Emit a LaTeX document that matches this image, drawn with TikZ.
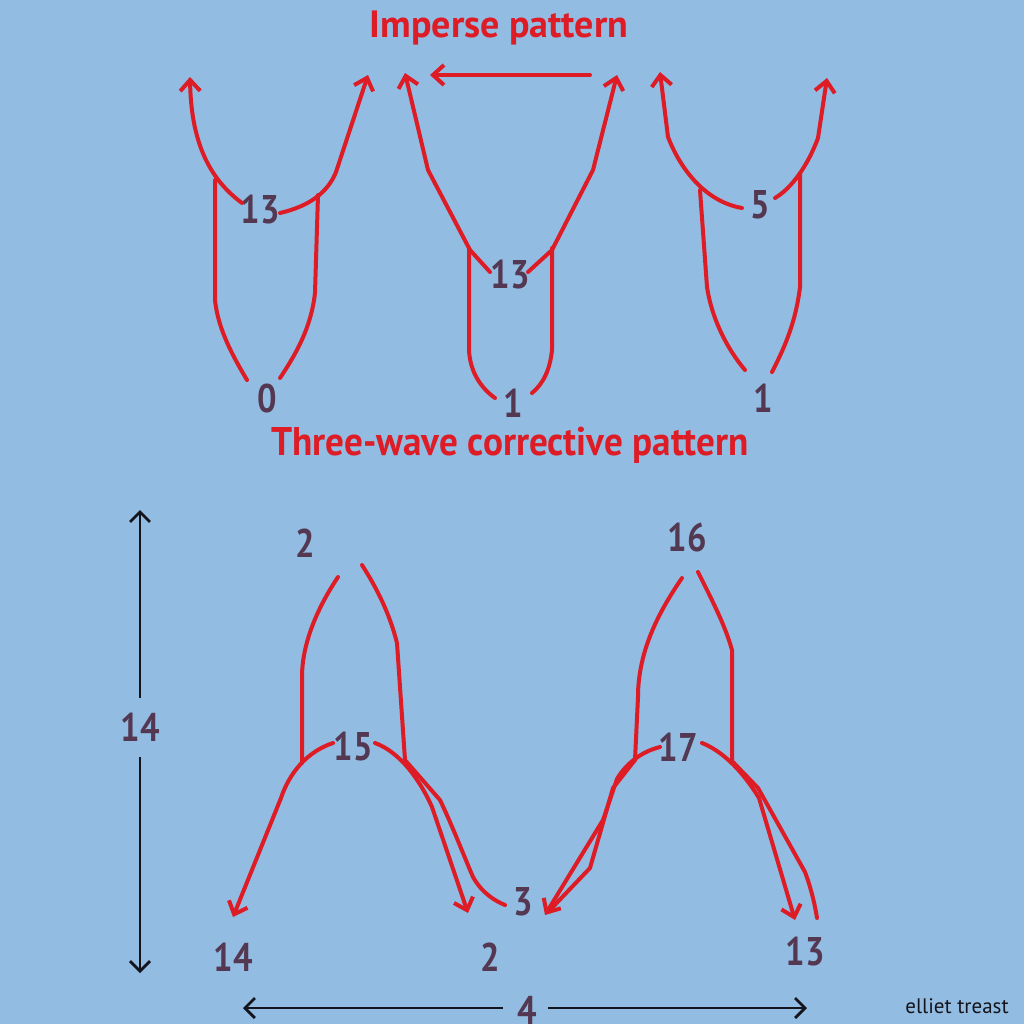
\documentclass[tikz,border=0pt]{standalone}
\usepackage{fontspec}
\usepackage{graphicx}
\setmainfont{PT Sans}
\newfontfamily\numfont[FakeStretch=0.86]{PT Sans Bold}
\newfontfamily\subfont[FakeStretch=0.93]{PT Sans Bold}
\usetikzlibrary{arrows.meta}
\definecolor{bg}{RGB}{146,188,226}
\definecolor{wred}{RGB}{222,28,38}
\definecolor{numc}{RGB}{84,56,82}
\definecolor{ink}{RGB}{20,20,28}
\tikzset{
  wave/.style={draw=wred,line width=2pt,line cap=round,line join=round},
  wavearrow/.style={wave,-{Straight Barb[length=5.5pt,width=10pt,line width=2pt]}},
  ruler/.style={draw=ink,line width=1.4pt,-{Straight Barb[length=5pt,width=10pt,line width=1.4pt]}},
  num/.style={text=numc,font=\numfont\fontsize{20}{20}\selectfont,inner sep=0pt},
  redtitle/.style={text=wred,font=\bfseries\fontsize{19}{19}\selectfont,inner sep=0pt},
  subtitle/.style={text=wred,font=\subfont\fontsize{20}{20}\selectfont,inner sep=0pt},
  credit/.style={text=ink,font=\fontsize{10.5}{10.5}\selectfont,inner sep=0pt}
}
\begin{document}
\begin{tikzpicture}[x=0.5pt,y=-0.5pt]
\fill[bg] (0,0) rectangle (1024,1024);
\useasboundingbox (0,0) rectangle (1024,1024);

% titles
\node[redtitle] (title) at (499,28) {Imperse pattern};
\node[subtitle] (sub) at (510,445) {Three-wave corrective pattern};

% ---------- top left ----------
\node[num] (tl13) at (260,210) {13};
\node[num] (tl0) at (267,398) {0};
\path[wavearrow] (242,203) .. controls (208,178) and (191,140) .. (190,77);
\path[wavearrow] (280,213) .. controls (310,206) and (328,192) .. (336,172) -- (368,75);
\path[wave] (215,180) -- (215,300) .. controls (218,330) and (234,358) .. (247,380);
\path[wave] (318,195) -- (315,293) .. controls (311,328) and (296,354) .. (280,378);

% ---------- top middle ----------
\node[num] (tm13) at (510,275) {13};
\node[num] (tm1) at (513,403) {1};
\path[wavearrow] (490,272) -- (470,250) -- (428,170) -- (405,73);
\path[wavearrow] (528,272) -- (552,250) -- (593,170) -- (617,75);
\path[wavearrow] (590,75) -- (430,75);
\path[wave] (469,248) -- (469,350) .. controls (470,372) and (481,388) .. (495,398);
\path[wave] (552,248) -- (552,350) .. controls (550,370) and (543,384) .. (532,393);

% ---------- top right ----------
\node[num] (tr5) at (760,205) {5};
\node[num] (tr1) at (763,398) {1};
\path[wavearrow] (742,208) .. controls (712,203) and (684,178) .. (668,137) -- (660,72);
\path[wavearrow] (775,198) .. controls (792,188) and (808,165) .. (818,138) -- (827,78);
\path[wave] (700,190) -- (707,287) .. controls (712,320) and (728,350) .. (745,370);
\path[wave] (800,173) -- (800,287) .. controls (796,320) and (786,345) .. (772,372);

% ---------- bottom left ----------
\node[num] (bl2) at (305,543) {2};
\node[num] (bl15) at (353,747) {15};
\node[num] (bl14) at (233,957) {14};
\node[num] (bl2b) at (490,957) {2};
\node[num] (bl3) at (523,902) {3};
\path[wave] (338,577) .. controls (316,610) and (302,645) .. (302,677) -- (302,763);
\path[wave] (362,565) .. controls (378,590) and (390,615) .. (397,643) -- (405,760);
\path[wavearrow] (333,743) .. controls (306,752) and (289,774) .. (281,798) -- (233,917);
\path[wavearrow] (375,743) .. controls (400,752) and (420,780) .. (432,807) -- (468,913);
\path[wave] (405,760) -- (440,800) .. controls (452,825) and (464,856) .. (473,877) .. controls (482,893) and (495,901) .. (505,905);

% ---------- bottom right ----------
\node[num] (br16) at (687,537) {16};
\node[num] (br17) at (678,747) {17};
\node[num] (br13) at (805,952) {13};
\path[wave] (682,578) .. controls (660,610) and (638,650) .. (638,697) -- (635,760);
\path[wave] (698,572) .. controls (712,600) and (725,625) .. (732,650) -- (732,760);
\path[wavearrow] (660,747) .. controls (640,752) and (625,765) .. (617,779) -- (603,820) -- (545,915);
\path[wave] (635,760) -- (613,788) -- (590,868) -- (549,911);
\path[wavearrow] (702,743) .. controls (725,752) and (745,775) .. (759,798) -- (795,920);
\path[wave] (733,762) -- (758,788) -- (805,872) .. controls (811,888) and (815,905) .. (817,918);

% ---------- rulers ----------
\node[num] (side14) at (140,727) {14};
\coordinate (vtop) at (140,510);
\coordinate (vbot) at (140,973);
\coordinate (vtopin) at (140,698);
\coordinate (vbotin) at (140,757);
\path[ruler] (vtopin) -- (vtop);
\path[ruler] (vbotin) -- (vbot);

\node[num] (four) at (527,1010) {4};
\coordinate (hleft) at (243,1008);
\coordinate (hright) at (807,1008);
\coordinate (hleftin) at (503,1008);
\coordinate (hrightin) at (548,1008);
\path[ruler] (hleftin) -- (hleft);
\path[ruler] (hrightin) -- (hright);

\node[credit] (cred) at (957,1006) {elliet treast};
\end{tikzpicture}
\end{document}
